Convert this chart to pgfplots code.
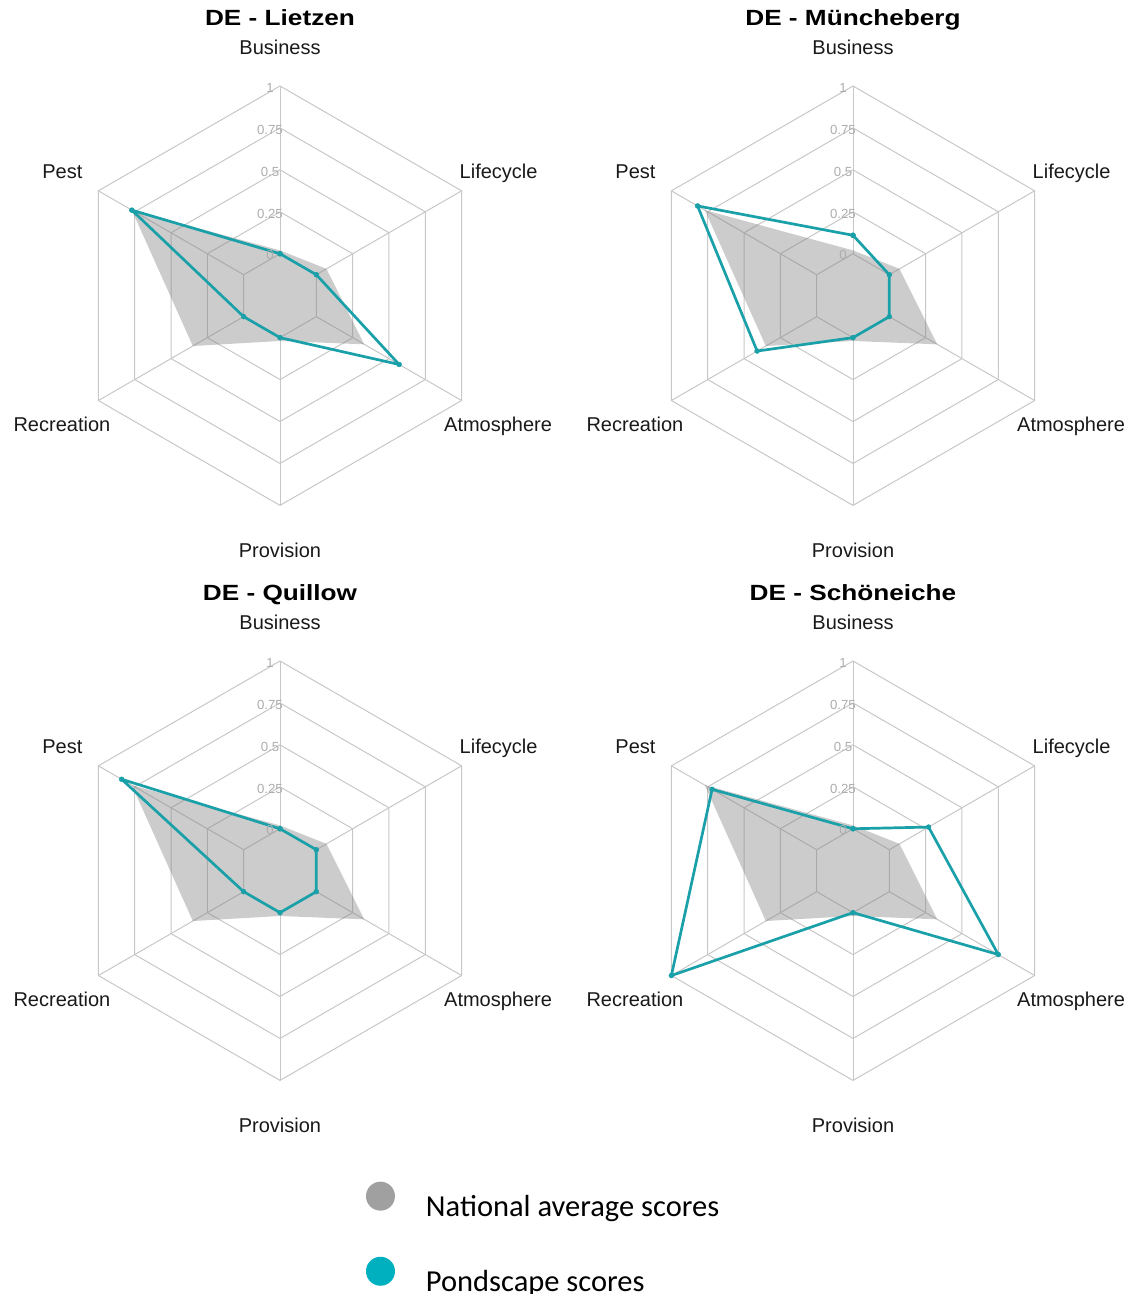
\documentclass[border=0pt]{standalone}
\usepackage{fontspec}
\setmainfont{Liberation Sans}
\newfontfamily\legendfont{Carlito}
\newfontfamily\titlefont[FakeStretch=1.19]{Liberation Sans}
\usepackage{pgfplots}
\usepackage{pgfplotstable}
\pgfplotsset{compat=1.18}

\definecolor{tealline}{HTML}{1AA0A8}
\definecolor{tealdot}{HTML}{00B0BE}
\definecolor{greydot}{HTML}{A0A0A0}

\tikzset{
  gridl/.style={draw=black!22, line width=0.5bp},
  natfill/.style={fill=gray, fill opacity=0.4, draw=none},
  pondline/.style={draw=tealline, line width=1.35bp, line join=round, mark=*, mark size=1.2bp,
     mark options={fill=tealline, draw=tealline, line width=0.3bp}},
  ticklab/.style={font=\fontsize{6.6bp}{7.5bp}\selectfont, text=black!32, inner sep=0pt, anchor=center},
  lab/.style={font=\fontsize{10bp}{12bp}\selectfont, text=black!90, inner sep=0pt, anchor=base},
  ttl/.style={font=\titlefont\bfseries\fontsize{11bp}{13bp}\selectfont, text=black, inner sep=0pt, anchor=base},
}

% angle: Business 90, Pest 150, Recreation 210, Provision 270, Atmosphere 330, Lifecycle 30
\pgfplotstableread{
axis angle nat pond
Business 90 0.02 0.00
Pest 150 0.77 0.77
Recreation 210 0.35 0.00
Provision 270 0.02 0.00
Atmosphere 330 0.33 0.57
Lifecycle 30 0.07 0.00
Business 90 0.02 0.00
}\tabLietzen

\pgfplotstableread{
axis angle nat pond
Business 90 0.02 0.11
Pest 150 0.77 0.82
Recreation 210 0.35 0.41
Provision 270 0.02 0.00
Atmosphere 330 0.33 0.00
Lifecycle 30 0.07 0.00
Business 90 0.02 0.11
}\tabMuencheberg

\pgfplotstableread{
axis angle nat pond
Business 90 0.02 0.00
Pest 150 0.77 0.84
Recreation 210 0.35 0.00
Provision 270 0.02 0.00
Atmosphere 330 0.33 0.00
Lifecycle 30 0.07 0.00
Business 90 0.02 0.00
}\tabQuillow

\pgfplotstableread{
axis angle nat pond
Business 90 0.02 0.00
Pest 150 0.77 0.72
Recreation 210 0.35 1.00
Provision 270 0.02 0.00
Atmosphere 330 0.33 0.75
Lifecycle 30 0.07 0.27
Business 90 0.02 0.00
}\tabSchoeneiche

\newcommand\radargrid{%
  \pgfplotsinvokeforeach{0.25,0.5,0.75,1.0,1.25}{%
    \addplot[gridl, data cs=polar] coordinates {(90,##1) (150,##1) (210,##1) (270,##1) (330,##1) (30,##1) (90,##1)};
  }
  \pgfplotsinvokeforeach{90,150,210,270,330,30}{%
    \addplot[gridl, data cs=polar] coordinates {(##1,0.25) (##1,1.25)};
  }
}
\newcommand\radarseries[1]{%
  \addplot[natfill, data cs=polar] table[x=angle, y expr=\thisrow{nat}+0.25] {#1};
  \addplot[pondline, data cs=polar] table[x=angle, y expr=\thisrow{pond}+0.25] {#1};
}
\newcommand\radarlabels[1]{%
  \node[ticklab] at (axis cs:-0.06,0.24) {0};
  \node[ticklab] at (axis cs:-0.06,0.49) {0.25};
  \node[ticklab] at (axis cs:-0.06,0.74) {0.5};
  \node[ticklab] at (axis cs:-0.06,0.99) {0.75};
  \node[ticklab] at (axis cs:-0.06,1.24) {1};
  \node[lab] at (axis cs:0,1.439) {Business};
  \node[lab] at (axis cs:1.303,0.70) {Lifecycle};
  \node[lab] at (axis cs:1.30,-0.81) {Atmosphere};
  \node[lab] at (axis cs:0,-1.562) {Provision};
  \node[lab] at (axis cs:-1.30,-0.81) {Recreation};
  \node[lab] at (axis cs:-1.297,0.70) {Pest};
  \node[ttl] at (axis cs:0,1.61) {#1};
}
\pgfplotsset{radar/.style={hide axis, clip=false, anchor=center,
  x=83.88bp, y=83.88bp, xmin=-1.3, xmax=1.3, ymin=-1.3, ymax=1.3}}

\begin{document}
\begin{tikzpicture}
\useasboundingbox (0bp,0bp) rectangle (566bp,647bp);

\begin{axis}[radar, at={(140bp,499.15bp)}]
  \radargrid
  \radarseries{\tabLietzen}
  \radarlabels{DE - Lietzen}
\end{axis}

\begin{axis}[radar, at={(426.5bp,499.15bp)}]
  \radargrid
  \radarseries{\tabMuencheberg}
  \radarlabels{DE - Müncheberg}
\end{axis}

\begin{axis}[radar, at={(140bp,211.65bp)}]
  \radargrid
  \radarseries{\tabQuillow}
  \radarlabels{DE - Quillow}
\end{axis}

\begin{axis}[radar, at={(426.5bp,211.65bp)}]
  \radargrid
  \radarseries{\tabSchoeneiche}
  \radarlabels{DE - Schöneiche}
\end{axis}

\begin{axis}[hide axis, clip=false, anchor=south west, at={(0bp,0bp)},
  x=0.5bp, y=0.5bp, xmin=0, xmax=1132, ymin=0, ymax=1294,
  legend image code/.code={\fill[#1, draw=none] (0bp,5.6bp) circle (7.25bp);},
  legend cell align=left,
  legend style={draw=none, fill=none, inner sep=0pt, outer sep=0pt,
    at={(0.3233,0.0868)}, anchor=north west,
    font=\legendfont\fontsize{15.25bp}{18bp}\selectfont,
    nodes={inner sep=0pt},
    row sep=18.65bp,
    /tikz/every odd column/.append style={column sep=15.5bp}}]
  \addlegendimage{fill=greydot}
  \addlegendentry{National average scores}
  \addlegendimage{fill=tealdot}
  \addlegendentry{Pondscape scores}
\end{axis}
\end{tikzpicture}
\end{document}
